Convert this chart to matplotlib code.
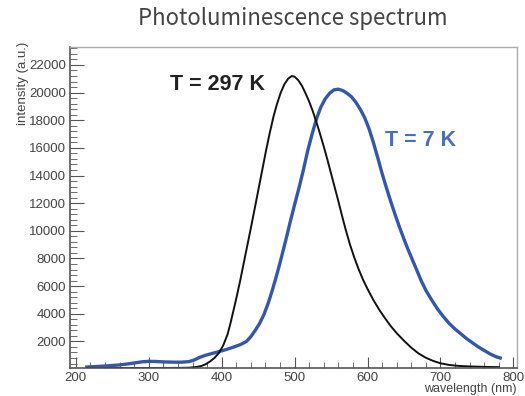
import numpy as np
import matplotlib
matplotlib.use('Agg')
import matplotlib.pyplot as plt
from matplotlib.ticker import MultipleLocator

# spectrum
wl_297 = [215, 250, 300, 340, 355, 365, 372, 378, 384, 390, 396, 402, 408, 412, 416,
          420, 425, 430, 435, 440, 446, 451, 456, 461, 466, 471, 476, 481, 486, 491,
          496, 500, 505, 510, 515, 520, 525, 530, 535, 540, 545, 550, 555, 560, 565,
          570, 576, 582, 588, 594, 600, 608, 616, 624, 632, 640, 650, 660, 670, 680,
          690, 700, 712, 725, 740, 760, 780]
int_297 = [80, 80, 80, 85, 100, 150, 220, 350, 550, 800, 1150, 1700, 2500, 3300, 4200,
           5100, 6300, 7600, 8900, 10200, 11800, 13150, 14500, 15850, 17100, 18250, 19200, 20000, 20600, 21000,
           21200, 21150, 20900, 20500, 19950, 19350, 18650, 17850, 17000, 16100, 15150, 14150, 13150, 12150, 11100,
           10100, 9000, 8050, 7200, 6450, 5800, 5000, 4300, 3680, 3100, 2600, 2050, 1550, 1130, 820,
           590, 420, 300, 230, 190, 160, 140]

wl_7 = [215, 230, 245, 260, 275, 290, 300, 310, 320, 335, 345, 355, 362, 370, 378,
        386, 394, 402, 410, 418, 426, 434, 440, 446, 452, 458, 464, 470, 476, 482,
        488, 494, 500, 506, 512, 518, 524, 530, 536, 542, 548, 554, 560, 566, 572,
        578, 584, 590, 596, 602, 608, 614, 620, 626, 632, 638, 644, 650, 656, 662,
        668, 674, 680, 688, 696, 704, 712, 720, 728, 736, 744, 752, 760, 768, 776,
        782]
int_7 = [150, 190, 240, 300, 400, 520, 560, 550, 520, 500, 500, 540, 650, 850, 1000,
         1120, 1230, 1350, 1480, 1620, 1780, 2000, 2350, 2800, 3300, 3950, 4800, 5800, 6900, 8100,
         9350, 10650, 11900, 13100, 14400, 15800, 17000, 18100, 18950, 19550, 19950, 20200, 20250, 20150, 19950,
         19700, 19300, 18800, 18200, 17400, 16400, 15300, 14150, 13100, 12100, 11150, 10250, 9400, 8600, 7850,
         7100, 6350, 5700, 5000, 4350, 3800, 3300, 2900, 2550, 2200, 1900, 1600, 1350, 1100, 900,
         800]

blue = '#3557a8'
grey = '#555555'

fig = plt.figure(figsize=(5.25, 3.96), dpi=100)
ax = fig.add_axes([70/525, 1-367.7/396, (517-70)/525, (367.7-47)/396])

ax.plot(wl_7, int_7, color=blue, lw=2.4)
ax.plot(wl_297, int_297, color='#111111', lw=1.4)

ax.set_xlim(192, 805)
ax.set_ylim(100, 23300)
ax.xaxis.set_major_locator(MultipleLocator(100))
ax.xaxis.set_minor_locator(MultipleLocator(20))
ax.set_yticks(np.arange(2000, 22001, 2000))
ax.yaxis.set_minor_locator(MultipleLocator(400))

ax.tick_params(which='both', direction='in', colors=grey, top=False, right=False,
               labelsize=9.5, labelcolor='#444444')
ax.tick_params(axis='y', which='major', length=10, pad=3)
ax.tick_params(axis='y', which='minor', length=5)
ax.tick_params(axis='x', which='major', length=8, pad=3)
ax.tick_params(axis='x', which='minor', length=4)
for lab in ax.get_xticklabels() + ax.get_yticklabels():
    lab.set_family('Liberation Sans')

for s in ['left', 'bottom']:
    ax.spines[s].set_color(grey)
    ax.spines[s].set_linewidth(1.2)
for s in ['top', 'right']:
    ax.spines[s].set_color('#aaaaaa')
    ax.spines[s].set_linewidth(1.0)

fig.text(23/525, 1-42/396, 'intensity (a.u.)', rotation=90, ha='center', va='top',
         fontsize=9.5, color='#444444', family='Liberation Sans')
fig.text(517/525, 1-395/396, 'wavelength (nm)', ha='right', va='bottom',
         fontsize=9, color='#444444', family='Liberation Sans')

fig.text(293/525, 1-19/396, 'Photoluminescence spectrum', ha='center', va='center',
         fontsize=16, color='#444444', family='Noto Sans CJK JP')

fig.text(218/525, 1-85/396, 'T = 297 K', ha='center', va='center', fontsize=15.5,
         fontweight='bold', color='#222222', family='Liberation Sans')
fig.text(421/525, 1-141/396, 'T = 7 K', ha='center', va='center', fontsize=15.5,
         fontweight='bold', color='#4a70b5', family='Liberation Sans')

fig.savefig('out.png', dpi=100)
